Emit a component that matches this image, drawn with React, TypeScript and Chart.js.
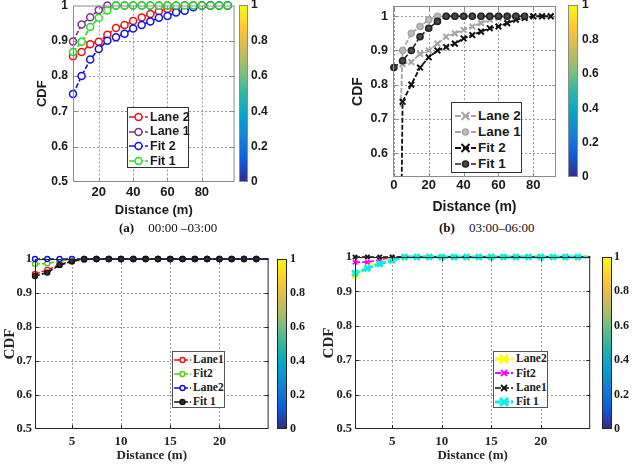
import { useEffect, useRef } from 'react';
import { Chart, registerables } from 'chart.js';

Chart.register(...registerables);

// ---- values ----
// (a) 00:00 - 03:00
const distA = [5, 10, 15, 20, 25, 30, 35, 40, 45, 50, 55, 60, 65, 70, 75, 80, 85, 90, 95];
const lane2A = [0.856, 0.868, 0.89, 0.897, 0.917, 0.936, 0.945, 0.956, 0.966, 0.976, 0.984, 0.99, 0.995, 1, 1, 1, 1, 1, 1];
const lane1A = [0.898, 0.946, 0.967, 0.987, 1, 1, 1, 1, 1, 1, 1, 1, 1, 1, 1, 1, 1, 1, 1];
const fit2A = [0.749, 0.8, 0.847, 0.877, 0.9, 0.91, 0.92, 0.935, 0.945, 0.955, 0.965, 0.97, 0.98, 0.985, 0.995, 1, 1, 1, 1];
const fit1A = [0.868, 0.897, 0.939, 0.965, 0.986, 1, 1, 1, 1, 1, 1, 1, 1, 1, 1, 1, 1, 1, 1];

// (b) 03:00 - 06:00
const distLane2B = [5, 10, 15, 20, 25, 30, 35, 40, 45, 50, 55, 60, 65, 70, 75, 80, 85, 90];
const lane2B = [0.86, 0.866, 0.89, 0.9, 0.92, 0.94, 0.95, 0.96, 0.97, 0.98, 0.99, 0.995, 1, 1, 1, 1, 1, 1];
const distLane1B = [4, 5, 10, 15, 20, 25, 30, 35, 40, 45, 50, 55, 60, 65, 70];
const lane1B = [0.735, 0.9, 0.95, 0.97, 0.99, 1, 1, 1, 1, 1, 1, 1, 1, 1, 1];
const distFit2B = [4, 5, 10, 15, 20, 25, 30, 35, 40, 45, 50, 55, 60, 65, 70, 75, 80, 85, 90];
const fit2B = [0.3, 0.75, 0.8, 0.85, 0.88, 0.9, 0.91, 0.92, 0.935, 0.945, 0.955, 0.965, 0.97, 0.98, 0.99, 0.995, 1, 1, 1];
const distFit1B = [0, 5, 10, 15, 20, 25, 30, 35, 40, 45, 50, 55, 60, 65, 70, 75];
const fit1B = [0.85, 0.87, 0.9, 0.94, 0.965, 0.985, 1, 1, 1, 1, 1, 1, 1, 1, 1, 1];

// (c) and (d) share the distance grid
const distCD = [1.25, 2.5, 3.75, 5, 6.25, 7.5, 8.75, 10, 11.25, 12.5, 13.75, 15, 16.25, 17.5, 18.75, 20, 21.25, 22.5, 23.75, 25];
const lane1C = [0.956, 0.968, 0.984, 0.994, 0.998, 1, 1, 1, 1, 1, 1, 1, 1, 1, 1, 1, 1, 1, 1, 1];
const fit2C = [0.985, 0.987, 0.993, 1, 1, 1, 1, 1, 1, 1, 1, 1, 1, 1, 1, 1, 1, 1, 1, 1];
const lane2C = [1, 1, 1, 1, 1, 1, 1, 1, 1, 1, 1, 1, 1, 1, 1, 1, 1, 1, 1, 1];
const fit1C = [0.95, 0.96, 0.982, 0.993, 1, 1, 1, 1, 1, 1, 1, 1, 1, 1, 1, 1, 1, 1, 1, 1];

const lane2D = [0.945, 0.97, 0.985, 0.995, 1, 1, 1, 1, 1, 1, 1, 1, 1, 1, 1, 1, 1, 1, 1, 1];
const fit2D = [0.985, 0.985, 0.992, 1, 1, 1, 1, 1, 1, 1, 1, 1, 1, 1, 1, 1, 1, 1, 1, 1];
const lane1D = [1, 1, 1, 1, 1, 1, 1, 1, 1, 1, 1, 1, 1, 1, 1, 1, 1, 1, 1, 1];
const fit1D = [0.953, 0.967, 0.98, 0.99, 1, 1, 1, 1, 1, 1, 1, 1, 1, 1, 1, 1, 1, 1, 1, 1];

// tick labels
const yTicksACD = [0.5, 0.6, 0.7, 0.8, 0.9, 1];
const yTicksB = [0.6, 0.7, 0.8, 0.9, 1];
const xTicksA = [20, 40, 60, 80];
const xTicksB = [0, 20, 40, 60, 80];
const xTicksCD = [5, 10, 15, 20];
const colorbarTicks = [0, 0.2, 0.4, 0.6, 0.8, 1];
const colorbarLevel = [1];

// parula colormap stops
const parula: [number, string][] = [
    [0, '#352a87'], [0.125, '#0f5cdd'], [0.25, '#1481d6'], [0.375, '#06a4ca'],
    [0.5, '#2eb7a4'], [0.625, '#87bf77'], [0.75, '#d1bb59'], [0.875, '#fec832'], [1, '#f9fb0e'],
];

const SANS = '"Liberation Sans", Arial, sans-serif';
const SERIF = '"Liberation Serif", "Times New Roman", serif';

type Marker = 'circle' | 'crossRot';

interface Series {
    label: string;
    xs: number[];
    ys: number[];
    color: string;
    marker: Marker;
    fill: string;
    radius: number;
    lineWidth: number;
    markerWidth: number;
    noMarker?: number[];
}

interface Box { left: number; top: number; width: number; height: number }
interface Pad { left: number; top: number; right: number; bottom: number }

interface PanelCfg {
    box: Box;
    pad: Pad;
    yWidth: number;
    xHeight: number;
    xMin: number; xMax: number; yMin: number; yMax: number;
    xTicks: number[]; yTicks: number[];
    family: string;
    textColor: string;
    xTickSize: number; yTickSize: number; xTitleSize: number; yTitleSize: number;
    xTickPad: number; yTickPad: number; xTitlePad: number; yTitlePad: number;
    frame: string;
    series: Series[];
}

interface ColorbarCfg {
    box: Box;
    pad: Pad;
    yWidth: number;
    family: string;
    size: number;
    tickPad: number;
    frame: string;
}

interface LegendCfg {
    box: Box;
    padTop: number;
    padLeft: number;
    rowH: number;
    iconW: number;
    gap: number;
    family: string;
    size: number;
    border: string;
    series: Series[];
}

// box round the plot area with inward tick marks, like a MATLAB axes frame
const framePlugin = {
    id: 'frame',
    afterDraw(chart: any, _args: any, opts: any) {
        const { ctx, chartArea: a } = chart;
        ctx.save();
        ctx.setLineDash([]);
        ctx.strokeStyle = opts.color || '#000';
        ctx.lineWidth = 1;
        ctx.strokeRect(a.left + 0.5, a.top + 0.5, a.width - 1, a.height - 1);
        if (opts.ticks) {
            const len = 4;
            ctx.beginPath();
            const xs = chart.scales.x;
            xs.ticks.forEach((t: any) => {
                const px = Math.round(xs.getPixelForValue(t.value)) + 0.5;
                if (px <= a.left + 1 || px >= a.right - 1) return;
                ctx.moveTo(px, a.bottom); ctx.lineTo(px, a.bottom - len);
                ctx.moveTo(px, a.top); ctx.lineTo(px, a.top + len);
            });
            const ys = chart.scales.y;
            ys.ticks.forEach((t: any) => {
                const py = Math.round(ys.getPixelForValue(t.value)) + 0.5;
                if (py <= a.top + 1 || py >= a.bottom - 1) return;
                ctx.moveTo(a.left, py); ctx.lineTo(a.left + len, py);
                ctx.moveTo(a.right, py); ctx.lineTo(a.right - len, py);
            });
            ctx.stroke();
        }
        ctx.restore();
    },
};

// dotted grid at the tick values, drawn under the lines
const gridPlugin = {
    id: 'dotgrid',
    beforeDatasetsDraw(chart: any, _args: any, opts: any) {
        if (!opts.show) return;
        const { ctx, chartArea: a } = chart;
        ctx.save();
        ctx.strokeStyle = opts.color;
        ctx.lineWidth = 1;
        ctx.setLineDash([2, 2]);
        ctx.beginPath();
        const xs = chart.scales.x;
        xs.ticks.forEach((t: any) => {
            const px = Math.round(xs.getPixelForValue(t.value)) + 0.5;
            if (px <= a.left + 1 || px >= a.right - 1) return;
            ctx.moveTo(px, a.top); ctx.lineTo(px, a.bottom);
        });
        const ys = chart.scales.y;
        ys.ticks.forEach((t: any) => {
            const py = Math.round(ys.getPixelForValue(t.value)) + 0.5;
            if (py <= a.top + 1 || py >= a.bottom - 1) return;
            ctx.moveTo(a.left, py); ctx.lineTo(a.right, py);
        });
        ctx.stroke();
        ctx.restore();
    },
};

const noPadding = (s: any) => {
    s.paddingLeft = 0;
    s.paddingRight = 0;
    s.paddingTop = 0;
    s.paddingBottom = 0;
};

function CdfPanel({ p }: { p: PanelCfg }) {
    const ref = useRef<HTMLCanvasElement | null>(null);

    useEffect(() => {
        if (!ref.current) return;
        const n = p.series.length;
        const chart = new Chart(ref.current, {
            type: 'line',
            data: {
                datasets: p.series.map((s, i) => ({
                    label: s.label,
                    data: s.xs.map((x, k) => ({ x, y: s.ys[k] })),
                    borderColor: s.color,
                    borderWidth: s.lineWidth,
                    borderDash: [5, 2],
                    pointStyle: s.marker,
                    pointRadius: s.xs.map((_, k) => (s.noMarker && s.noMarker.includes(k) ? 0 : s.radius)),
                    pointBorderColor: s.color,
                    pointBackgroundColor: s.fill,
                    pointBorderWidth: s.markerWidth,
                    tension: 0,
                    order: n - i,
                    clip: { left: 6, top: 6, right: 6, bottom: 0 },
                })),
            },
            options: {
                responsive: true,
                maintainAspectRatio: false,
                animation: false,
                layout: { padding: p.pad },
                plugins: {
                    legend: { display: false },
                    tooltip: { enabled: false },
                    frame: { color: p.frame, ticks: true },
                    dotgrid: { show: true, color: '#9a9a9a' },
                } as any,
                scales: {
                    x: {
                        type: 'linear',
                        min: p.xMin,
                        max: p.xMax,
                        afterBuildTicks: (s: any) => { s.ticks = p.xTicks.map(v => ({ value: v })); },
                        afterFit: (s: any) => { s.height = p.xHeight; noPadding(s); },
                        grid: { display: false, drawTicks: false },
                        border: { display: false },
                        ticks: {
                            color: p.textColor,
                            padding: p.xTickPad,
                            maxRotation: 0,
                            autoSkip: false,
                            font: { family: p.family, size: p.xTickSize, weight: 'bold' },
                            callback: (v: any) => String(v),
                        },
                        title: {
                            display: true,
                            text: 'Distance (m)',
                            color: p.textColor,
                            padding: { top: 0, bottom: p.xTitlePad },
                            font: { family: p.family, size: p.xTitleSize, weight: 'bold' },
                        },
                    },
                    y: {
                        type: 'linear',
                        min: p.yMin,
                        max: p.yMax,
                        afterBuildTicks: (s: any) => { s.ticks = p.yTicks.map(v => ({ value: v })); },
                        afterFit: (s: any) => { s.width = p.yWidth; noPadding(s); },
                        grid: { display: false, drawTicks: false },
                        border: { display: false },
                        ticks: {
                            color: p.textColor,
                            padding: p.yTickPad,
                            autoSkip: false,
                            font: { family: p.family, size: p.yTickSize, weight: 'bold' },
                            callback: (v: any) => String(v),
                        },
                        title: {
                            display: true,
                            text: 'CDF',
                            color: p.textColor,
                            padding: { top: p.yTitlePad, bottom: 0 },
                            font: { family: p.family, size: p.yTitleSize, weight: 'bold' },
                        },
                    },
                },
            },
            plugins: [gridPlugin, framePlugin],
        });
        return () => chart.destroy();
    }, []);

    return (
        <div style={{ position: 'absolute', ...p.box }}>
            <canvas ref={ref} />
        </div>
    );
}

function Colorbar({ c }: { c: ColorbarCfg }) {
    const ref = useRef<HTMLCanvasElement | null>(null);

    useEffect(() => {
        if (!ref.current) return;
        const chart = new Chart(ref.current, {
            type: 'bar',
            data: {
                labels: ['level'],
                datasets: [{
                    data: colorbarLevel,
                    categoryPercentage: 1,
                    barPercentage: 1,
                    borderWidth: 0,
                    backgroundColor: (ctx: any) => {
                        const a = ctx.chart.chartArea;
                        if (!a) return '#352a87';
                        const g = ctx.chart.ctx.createLinearGradient(0, a.bottom, 0, a.top);
                        parula.forEach(([pos, col]) => g.addColorStop(pos, col));
                        return g;
                    },
                }],
            },
            options: {
                responsive: true,
                maintainAspectRatio: false,
                animation: false,
                layout: { padding: c.pad },
                plugins: {
                    legend: { display: false },
                    tooltip: { enabled: false },
                    frame: { color: c.frame, ticks: false },
                } as any,
                scales: {
                    x: { display: false },
                    y: {
                        position: 'right',
                        min: 0,
                        max: 1,
                        afterBuildTicks: (s: any) => { s.ticks = colorbarTicks.map(v => ({ value: v })); },
                        afterFit: (s: any) => { s.width = c.yWidth; noPadding(s); },
                        grid: { display: false, drawTicks: false },
                        border: { display: false },
                        ticks: {
                            color: '#1a1a1a',
                            padding: c.tickPad,
                            autoSkip: false,
                            font: { family: c.family, size: c.size, weight: 'bold' },
                            callback: (v: any) => String(v),
                        },
                    },
                },
            },
            plugins: [framePlugin],
        });
        return () => chart.destroy();
    }, []);

    return (
        <div style={{ position: 'absolute', ...c.box }}>
            <canvas ref={ref} />
        </div>
    );
}

function LegendIcon({ s, w }: { s: Series; w: number }) {
    const cy = 6;
    const cx = w / 2;
    const r = Math.min(s.radius, 4);
    return (
        <svg width={w} height={12} style={{ flex: 'none' }}>
            <line x1={0} y1={cy} x2={w} y2={cy} stroke={s.color} strokeWidth={s.lineWidth} strokeDasharray="6 2" />
            {s.marker === 'circle' ? (
                <circle cx={cx} cy={cy} r={r} fill={s.fill} stroke={s.color} strokeWidth={s.markerWidth} />
            ) : (
                <g stroke={s.color} strokeWidth={s.markerWidth}>
                    <line x1={cx - r} y1={cy - r} x2={cx + r} y2={cy + r} />
                    <line x1={cx - r} y1={cy + r} x2={cx + r} y2={cy - r} />
                </g>
            )}
        </svg>
    );
}

function Legend({ l }: { l: LegendCfg }) {
    return (
        <div
            style={{
                position: 'absolute',
                ...l.box,
                boxSizing: 'border-box',
                border: `1px solid ${l.border}`,
                background: '#fff',
                paddingTop: l.padTop,
                paddingLeft: l.padLeft,
                fontFamily: l.family,
                fontSize: l.size,
                fontWeight: 'bold',
                color: '#1a1a1a',
                lineHeight: 1,
            }}
        >
            {l.series.map(s => (
                <div key={s.label} style={{ display: 'flex', alignItems: 'center', height: l.rowH, whiteSpace: 'nowrap' }}>
                    <LegendIcon s={s} w={l.iconW} />
                    <span style={{ marginLeft: l.gap }}>{s.label}</span>
                </div>
            ))}
        </div>
    );
}

// ---- series styling ----
const seriesA: Series[] = [
    { label: 'Lane 2', xs: distA, ys: lane2A, color: '#ee1111', marker: 'circle', fill: '#ffffff', radius: 3.5, lineWidth: 1.6, markerWidth: 1.5 },
    { label: 'Lane 1', xs: distA, ys: lane1A, color: '#7e2f8e', marker: 'circle', fill: '#ffffff', radius: 3.5, lineWidth: 1.6, markerWidth: 1.5 },
    { label: 'Fit 2', xs: distA, ys: fit2A, color: '#1010ee', marker: 'circle', fill: '#ffffff', radius: 3.5, lineWidth: 1.6, markerWidth: 1.5 },
    { label: 'Fit 1', xs: distA, ys: fit1A, color: '#22e022', marker: 'circle', fill: '#ffffff', radius: 3.5, lineWidth: 1.6, markerWidth: 1.5 },
];

const seriesB: Series[] = [
    { label: 'Lane 2', xs: distLane2B, ys: lane2B, color: '#a6a6a6', marker: 'crossRot', fill: '#a6a6a6', radius: 4, lineWidth: 1.8, markerWidth: 2 },
    { label: 'Lane 1', xs: distLane1B, ys: lane1B, color: '#a6a6a6', marker: 'circle', fill: '#bdbdbd', radius: 3, lineWidth: 1.8, markerWidth: 1.6, noMarker: [0] },
    { label: 'Fit 2', xs: distFit2B, ys: fit2B, color: '#111111', marker: 'crossRot', fill: '#111111', radius: 4, lineWidth: 1.8, markerWidth: 2, noMarker: [0] },
    { label: 'Fit 1', xs: distFit1B, ys: fit1B, color: '#222222', marker: 'circle', fill: '#4a4a4a', radius: 3, lineWidth: 1.6, markerWidth: 1.6 },
];

const last = [19];

const seriesC: Series[] = [
    { label: 'Lane1', xs: distCD, ys: lane1C, color: '#ee1111', marker: 'circle', fill: '#ffffff', radius: 2.5, lineWidth: 1.6, markerWidth: 1.4, noMarker: last },
    { label: 'Fit2', xs: distCD, ys: fit2C, color: '#55cc11', marker: 'circle', fill: '#ffffff', radius: 2.5, lineWidth: 1.6, markerWidth: 1.4, noMarker: last },
    { label: 'Lane2', xs: distCD, ys: lane2C, color: '#1010ee', marker: 'circle', fill: '#ffffff', radius: 2.5, lineWidth: 1.6, markerWidth: 1.4, noMarker: last },
    { label: 'Fit 1', xs: distCD, ys: fit1C, color: '#111111', marker: 'circle', fill: '#333333', radius: 2.5, lineWidth: 1.6, markerWidth: 1.4, noMarker: last },
];

const seriesD: Series[] = [
    { label: 'Lane2', xs: distCD, ys: lane2D, color: '#ffff00', marker: 'crossRot', fill: '#ffff00', radius: 4, lineWidth: 3, markerWidth: 2.8, noMarker: last },
    { label: 'Fit2', xs: distCD, ys: fit2D, color: '#ff00ff', marker: 'crossRot', fill: '#ff00ff', radius: 3, lineWidth: 1.8, markerWidth: 1.8, noMarker: last },
    { label: 'Lane1', xs: distCD, ys: lane1D, color: '#111111', marker: 'crossRot', fill: '#111111', radius: 3, lineWidth: 1.6, markerWidth: 1.8, noMarker: last },
    { label: 'Fit 1', xs: distCD, ys: fit1D, color: '#00f0f0', marker: 'crossRot', fill: '#00f0f0', radius: 4, lineWidth: 3, markerWidth: 2.8, noMarker: last },
];

// ---- layout of the four panels ----
const panelA: PanelCfg = {
    box: { left: 0, top: 0, width: 240, height: 222 },
    pad: { left: 31, top: 5, right: 5, bottom: 0 },
    yWidth: 42, xHeight: 40,
    xMin: 5, xMax: 99, yMin: 0.5, yMax: 1,
    xTicks: xTicksA, yTicks: yTicksACD,
    family: SANS, textColor: '#1a1a1a',
    xTickSize: 13, yTickSize: 12, xTitleSize: 13, yTitleSize: 13,
    xTickPad: 3, yTickPad: 5, xTitlePad: 4, yTitlePad: 4,
    frame: '#8c8c8c',
    series: seriesA,
};

const panelB: PanelCfg = {
    box: { left: 320, top: 0, width: 242, height: 220 },
    pad: { left: 26, top: 5, right: 2, bottom: 0 },
    yWidth: 47, xHeight: 43,
    xMin: -0.5, xMax: 93, yMin: 0.53, yMax: 1.03,
    xTicks: xTicksB, yTicks: yTicksB,
    family: SANS, textColor: '#1a1a1a',
    xTickSize: 13, yTickSize: 12.5, xTitleSize: 14, yTitleSize: 14,
    xTickPad: 1, yTickPad: 5, xTitlePad: 4, yTitlePad: 4,
    frame: '#8c8c8c',
    series: seriesB,
};

const panelC: PanelCfg = {
    box: { left: 0, top: 240, width: 274, height: 225 },
    pad: { left: 1, top: 19, right: 2, bottom: 0 },
    yWidth: 34, xHeight: 36,
    xMin: 1.25, xMax: 25, yMin: 0.5, yMax: 1,
    xTicks: xTicksCD, yTicks: yTicksACD,
    family: SERIF, textColor: '#262626',
    xTickSize: 13, yTickSize: 12.5, xTitleSize: 13, yTitleSize: 15,
    xTickPad: 5, yTickPad: 3, xTitlePad: 2, yTitlePad: 0,
    frame: '#262626',
    series: seriesC,
};

const panelD: PanelCfg = {
    box: { left: 320, top: 240, width: 277, height: 225 },
    pad: { left: 0, top: 17, right: 2, bottom: 0 },
    yWidth: 35, xHeight: 36,
    xMin: 1.25, xMax: 25, yMin: 0.5, yMax: 1,
    xTicks: xTicksCD, yTicks: yTicksACD,
    family: SERIF, textColor: '#262626',
    xTickSize: 13, yTickSize: 12.5, xTitleSize: 13, yTitleSize: 15,
    xTickPad: 5, yTickPad: 3, xTitlePad: 2, yTitlePad: 0,
    frame: '#262626',
    series: seriesD,
};

const colorbars: ColorbarCfg[] = [
    { box: { left: 230, top: 0, width: 40, height: 190 }, pad: { left: 9, top: 5, right: 0, bottom: 8 }, yWidth: 22, family: SANS, size: 12, tickPad: 3, frame: '#8c8c8c' },
    { box: { left: 560, top: 0, width: 46, height: 185 }, pad: { left: 8, top: 5, right: 0, bottom: 8 }, yWidth: 28, family: SANS, size: 12, tickPad: 4, frame: '#8c8c8c' },
    { box: { left: 272, top: 240, width: 40, height: 197 }, pad: { left: 5, top: 19, right: 0, bottom: 8 }, yWidth: 25, family: SERIF, size: 12, tickPad: 3, frame: '#262626' },
    { box: { left: 596, top: 240, width: 34, height: 197 }, pad: { left: 6, top: 17, right: 0, bottom: 8 }, yWidth: 18, family: SERIF, size: 12, tickPad: 2, frame: '#262626' },
];

const legends: LegendCfg[] = [
    { box: { left: 127, top: 107, width: 62, height: 61 }, padTop: 1.5, padLeft: 1, rowH: 14.7, iconW: 19, gap: 2, family: SANS, size: 12.5, border: '#333', series: seriesA },
    { box: { left: 451, top: 102, width: 71, height: 71 }, padTop: 5, padLeft: 3, rowH: 16, iconW: 21, gap: 2, family: SANS, size: 13.5, border: '#333', series: seriesB },
    { box: { left: 172, top: 351, width: 53, height: 57 }, padTop: 1, padLeft: 1, rowH: 14, iconW: 17, gap: 2, family: SERIF, size: 11.5, border: '#555', series: seriesC },
    { box: { left: 493, top: 351, width: 55, height: 57 }, padTop: 0, padLeft: 1, rowH: 14.3, iconW: 18, gap: 3, family: SERIF, size: 11.5, border: '#555', series: seriesD },
];

function Caption({ left, tag, text, gap }: { left: number; tag: string; text: string; gap: number }) {
    return (
        <div style={{ position: 'absolute', left, top: 220, fontFamily: SERIF, fontSize: 13, color: '#111', whiteSpace: 'pre' }}>
            <span style={{ fontWeight: 'bold' }}>{tag}</span>
            <span style={{ marginLeft: gap }}>{text}</span>
        </div>
    );
}

export default function App() {
    return (
        <div style={{ position: 'absolute', left: 0, top: 0, width: 633, height: 468, background: '#fff', overflow: 'hidden' }}>
            <CdfPanel p={panelA} />
            <CdfPanel p={panelB} />
            <CdfPanel p={panelC} />
            <CdfPanel p={panelD} />
            {colorbars.map((c, i) => <Colorbar key={i} c={c} />)}
            {legends.map((l, i) => <Legend key={i} l={l} />)}
            <Caption left={119} tag="(a)" text="00:00 –03:00" gap={14} />
            <Caption left={439} tag="(b)" text="03:00–06:00" gap={14} />
        </div>
    );
}
